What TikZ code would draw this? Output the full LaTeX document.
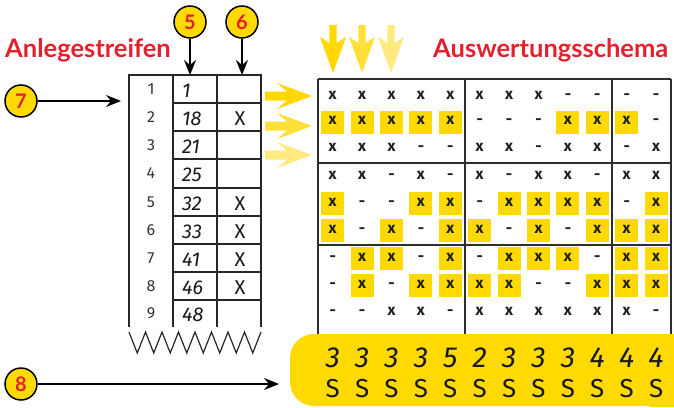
\documentclass[tikz,border=0pt]{standalone}
\usepackage{fontspec}
\setmainfont{Fira Sans}
\newfontfamily\headfont{Lato}
\usetikzlibrary{arrows.meta}
\definecolor{ylw}{HTML}{FFDA00}
\definecolor{ya}{HTML}{FFD800}
\definecolor{yb}{HTML}{FFE03A}
\definecolor{yc}{HTML}{FFEA80}
\definecolor{hred}{HTML}{E5202E}
\definecolor{gridc}{HTML}{2E2E2E}
\newcommand\harr[2]{\fill[#2] (265,#1-4.5) -- (287,#1-4.5) -- (277,#1-13) -- (312,#1) -- (277,#1+13) -- (287,#1+4.5) -- (265,#1+4.5) -- cycle;}
\newcommand\varr[2]{\fill[#2] (#1-3.7,25) -- (#1+3.7,25) -- (#1+3.7,43) -- (#1+13,37) -- (#1,73) -- (#1-13,37) -- (#1-3.7,43) -- cycle;}
\tikzset{
  circ/.style={circle, fill=ylw, draw=black, line width=1.5pt, minimum size=32pt, inner sep=0pt,
    text=hred, font=\headfont\bfseries\fontsize{20}{20}\selectfont},
  blk/.style={line width=1.7pt, -{Stealth[length=15pt,width=12pt,inset=5pt]}},
  head/.style={text=hred, font=\headfont\bfseries\fontsize{25.5}{26}\selectfont, inner sep=0pt},
  cellt/.style={inner sep=0pt, text height=1ex, text depth=0pt, text=black!88,
    font=\bfseries\fontsize{15.5}{15.5}\selectfont},
  hl/.style={cellt, fill=ylw, minimum size=23pt},
  stripl/.style={line width=1.4pt, draw=black!85},
  rownum/.style={inner sep=0pt, text=black!80, font=\fontsize{16}{16}\selectfont},
  hand/.style={inner sep=0pt, anchor=base west, text=black!90, font=\itshape\fontsize{20}{20}\selectfont},
  handx/.style={inner sep=0pt, anchor=base, text=black!90, font=\fontsize{20}{20}\selectfont},
  bandnum/.style={inner sep=0pt, anchor=base, text=black!90, font=\itshape\fontsize{29}{29}\selectfont},
  bands/.style={inner sep=0pt, anchor=base, text=black!90, font=\fontsize{26}{26}\selectfont},
  gridl/.style={line width=1.8pt, draw=gridc},
}
\begin{document}
\begin{tikzpicture}[x=1pt,y=-1pt]
\useasboundingbox (0,0) rectangle (674,407);

% headings
\node[head, anchor=base west] (h1) at (5,57) {Anlegestreifen};
\node[head, anchor=base west] (h2) at (433,57) {Auswertungsschema};

% circles and arrows
\node[circ] (n5) at (190,22) {5};
\node[circ] (n6) at (242,22) {6};
\node[circ] (n7) at (21,101) {7};
\node[circ] (n8) at (21,384) {8};
\coordinate (t5) at (190,75);
\coordinate (t6) at (242,75);
\coordinate (t7) at (121,101);
\coordinate (t8) at (279,384);
\draw[blk] (n5) -- (t5);
\draw[blk] (n6) -- (t6);
\draw[blk] (n7) -- (t7);
\draw[blk] (n8) -- (t8);

% strip
\draw[stripl] (129,327) -- (129,75) -- (261,75) -- (261,327);
\draw[stripl] (173,75) -- (173,327);
\draw[stripl] (217,75) -- (217,327);
\foreach \yy in {103,131,159,188,216,244,272,300}
  \draw[stripl] (173,\yy) -- (261,\yy);
\draw[line width=1.2pt, draw=black!85, line join=miter] (129,332)
  \foreach \k in {1,...,8} { -- ({129+16.5*\k-8.25},353) -- ({129+16.5*\k},332) };

\foreach \n/\yy/\hv/\xm in {1/89/1/0,2/117/18/1,3/145/21/0,4/173.5/25/0,5/202/32/1,6/230/33/1,7/258/41/1,8/286/46/1,9/313/48/0}{
  \node[rownum] (r\n) at (151,\yy) {\n};
  \node[hand] (v\n) at (182,\yy+8) {\hv};
  \ifnum\xm=1 \node[handx] (x\n) at (240,\yy+8) {X};\fi
}

% yellow arrows
\harr{96}{ya}
\harr{126}{yb}
\harr{155}{yc}
\varr{333}{ya}
\varr{362}{yb}
\varr{391}{yc}

% scheme grid
\draw[gridl] (318,79) -- (671,79);
\draw[gridl] (318,163) -- (671,163);
\draw[gridl] (318,245) -- (671,245);
\foreach \xx in {318,465,612,671}
  \draw[gridl] (\xx,79) -- (\xx,340);

% cells
\foreach \yy/\row [count=\r] in {
  97/{1,1,1,1,1,1,1,1,0,0,0,0},
  122/{2,2,2,2,2,0,0,0,2,2,2,0},
  149/{1,1,1,0,0,1,1,0,1,1,0,1},
  177/{1,1,0,1,0,1,0,1,1,0,1,1},
  203.5/{2,0,0,2,2,0,2,2,2,2,0,2},
  230.5/{2,0,2,0,2,2,0,2,0,2,2,2},
  258.5/{0,2,2,0,2,0,2,2,2,0,2,2},
  285.5/{0,2,0,2,2,2,2,0,0,2,2,2},
  313/{0,0,1,1,0,1,1,1,1,1,1,0}}{
  \foreach \v [count=\c] in \row {
    \pgfmathsetmacro\xx{318+29.4*(\c-0.5)}
    \ifnum\v=2 \node[hl] (m-\r-\c) at (\xx,\yy) {x};
    \else\ifnum\v=1 \node[cellt] (m-\r-\c) at (\xx,\yy) {x};
    \else \node[cellt] (m-\r-\c) at (\xx,\yy) {-};\fi\fi
  }
}

% band
\fill[ylw, rounded corners=24pt] (676,334) -- (290,334) -- (290,406) -- (676,406);
\fill[ylw] (650,334) rectangle (676,407);
\foreach \d [count=\c] in {3,3,3,3,5,2,3,3,3,4,4,4}{
  \pgfmathsetmacro\xx{318+29.4*(\c-0.5)}
  \node[bandnum] (b-\c) at (\xx,367) {\d};
  \node[bands] (s-\c) at (\xx,397) {S};
}
\end{tikzpicture}
\end{document}
